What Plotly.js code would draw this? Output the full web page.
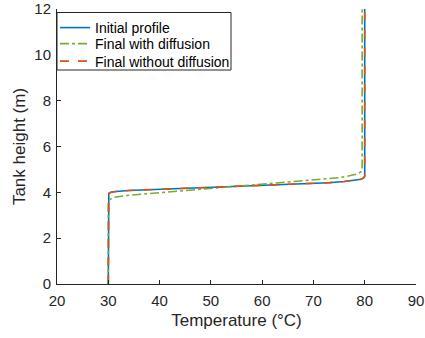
<!DOCTYPE html>
<html>
<head>
<meta charset="utf-8">
<script src="https://cdn.plot.ly/plotly-3.0.1.min.js"></script>
<style>html,body{margin:0;padding:0;background:#fff;}#chart{width:425px;height:338px;}</style>
</head>
<body>
<div id="chart"></div>
<script>
// Initial profile
const initialTemp = [30, 30, 30.1, 30.5, 31.5, 34, 40, 48, 55, 62, 68, 73, 76, 78, 79.3, 79.8, 80, 80];
const initialHeight = [0, 3.85, 3.95, 4.0, 4.04, 4.08, 4.13, 4.21, 4.26, 4.31, 4.36, 4.42, 4.47, 4.52, 4.57, 4.63, 4.7, 12];
// Final with diffusion
const diffTemp = [30, 30, 30.2, 31, 34, 40, 48, 56, 62, 68, 72, 75, 77, 78.5, 79.3, 79.5, 79.5];
const diffHeight = [0, 3.55, 3.67, 3.78, 3.87, 3.98, 4.13, 4.28, 4.38, 4.5, 4.57, 4.64, 4.72, 4.8, 4.9, 5.0, 12];
// Final without diffusion
const noDiffTemp = [30, 30, 30.1, 30.5, 31.5, 34, 40, 48, 55, 62, 68, 73, 76, 78, 79.3, 79.8, 80, 80];
const noDiffHeight = [0, 3.85, 3.95, 4.0, 4.04, 4.08, 4.13, 4.21, 4.26, 4.31, 4.36, 4.42, 4.47, 4.52, 4.57, 4.63, 4.7, 12];

const seriesNames = ['Initial profile', 'Final with diffusion', 'Final without diffusion'];
const xTicks = [20, 30, 40, 50, 60, 70, 80, 90];
const yTicks = [0, 2, 4, 6, 8, 10, 12];

const axisColor = '#262626';
const fontFamily = 'Liberation Sans, Arial, Helvetica, sans-serif';

const traces = [
  {x: initialTemp, y: initialHeight, name: seriesNames[0], mode: 'lines', legend: 'legend',
   line: {color: '#0072BD', width: 1.6, dash: 'solid'}},
  {x: diffTemp, y: diffHeight, name: seriesNames[1], mode: 'lines', legend: 'legend2',
   line: {color: '#77AC30', width: 1.6, dash: 'dashdot'}},
  {x: noDiffTemp, y: noDiffHeight, name: seriesNames[2], mode: 'lines', legend: 'legend3',
   line: {color: '#D95319', width: 1.6, dash: 'dash'}}
];

// plot area: 359 x 275 px
function legendAt(rowY) {
  return {
    x: -2 / 359, y: (284 - rowY) / 275, xanchor: 'left', yanchor: 'middle',
    bgcolor: 'rgba(0,0,0,0)', borderwidth: 0,
    font: {family: fontFamily, size: 14, color: '#000'},
    itemwidth: 30
  };
}

const layout = {
  width: 425, height: 338,
  margin: {l: 57, r: 9, t: 9, b: 54},
  paper_bgcolor: '#fff', plot_bgcolor: '#fff',
  font: {family: fontFamily, color: axisColor, size: 14},
  showlegend: true,
  legend: legendAt(28),
  legend2: legendAt(44),
  legend3: legendAt(61.5),
  shapes: [{
    type: 'rect', xref: 'paper', yref: 'paper', layer: 'above',
    x0: 0, x1: (231 - 57) / 359, y0: (284 - 70) / 275, y1: (284 - 12.5) / 275,
    fillcolor: '#fff', line: {color: axisColor, width: 1}
  }],
  xaxis: {
    range: [20, 90], tickvals: xTicks, ticktext: xTicks.map(String),
    showgrid: false, zeroline: false, showline: true, linecolor: axisColor, linewidth: 1,
    ticks: 'inside', ticklen: 4, tickcolor: axisColor, ticklabelstandoff: 3,
    tickfont: {size: 15, color: axisColor},
    title: {text: 'Temperature (°C)', font: {size: 17, color: axisColor}, standoff: 6}
  },
  yaxis: {
    range: [0, 12], tickvals: yTicks, ticktext: yTicks.map(String),
    showgrid: false, zeroline: false, showline: true, linecolor: axisColor, linewidth: 1,
    ticks: 'inside', ticklen: 4, tickcolor: axisColor, ticklabelstandoff: 2,
    tickfont: {size: 15, color: axisColor},
    title: {text: 'Tank height (m)', font: {size: 17, color: axisColor}, standoff: 4}
  }
};

Plotly.newPlot('chart', traces, layout, {displayModeBar: false, staticPlot: true});
</script>
</body>
</html>
